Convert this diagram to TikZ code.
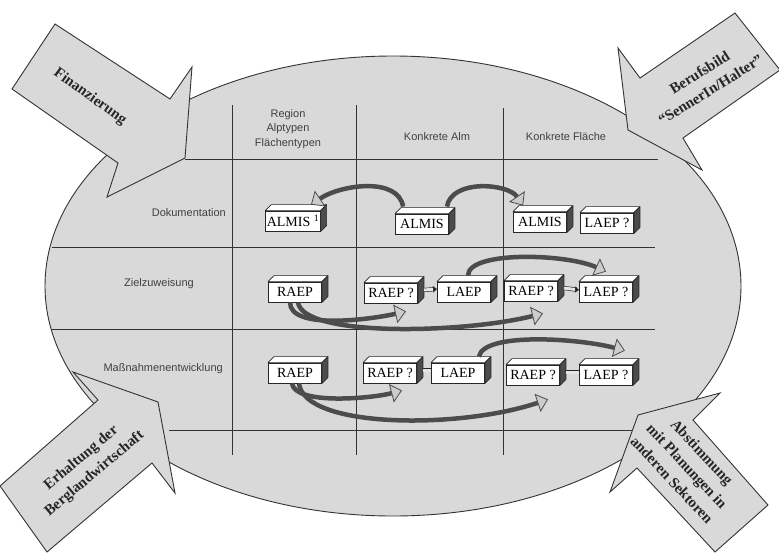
\documentclass[tikz,border=0pt]{standalone}
\usepackage{fontspec}
\setmainfont{Liberation Serif}
\setsansfont{Liberation Sans}
\usetikzlibrary{arrows.meta}

\begin{document}
\begin{tikzpicture}[
  x=1pt, y=-1pt,
  plane/.style={draw=black!80, line width=0.9pt, fill=black!15, line join=miter},
  grid/.style={draw=black!80, line width=0.8pt},
  hdr/.style={font=\sffamily\fontsize{11}{14.5}\selectfont, text=black!75, align=center, inner sep=0pt},
  pushtxt/.style={font=\rmfamily\bfseries\fontsize{15}{20.5}\selectfont, text=black!85, align=center, inner sep=0pt},
  blk/.style={rectangle, draw=black!85, line width=0.8pt, fill=white, minimum width=53pt,
              minimum height=20pt, inner sep=1pt, font=\rmfamily\fontsize{14}{16}\selectfont},
  blktop/.style={draw=black!85, line width=0.7pt, fill=white, line join=round},
  blkside/.style={draw=black!85, line width=0.7pt, fill=black!70, line join=round},
  link/.style={draw=black!85, line width=0.6pt, double=black!10, double distance=3pt},
  flow/.style={draw=black!70, line width=4.5pt,
               -{Triangle[length=11pt, width=19pt, fill=black!20, line width=0.8pt]}}
]
\useasboundingbox (0,0) rectangle (779,552);

% the oval
\path[plane] (393,286) ellipse [x radius=348pt, y radius=230pt];

% grid
\draw[grid] (185,159) -- (658,159);
\draw[grid] (52,247) -- (655,247);
\draw[grid] (52,329) -- (655,329);
\draw[grid] (169,430) -- (660,430);
\draw[grid] (232,105) -- (232,455);
\draw[grid] (356,105) -- (356,455);
\draw[grid] (503,108) -- (503,455);

% column and row heads
\node[hdr] (hreg) at (288,129) {Region\\Alptypen\\Flächentypen};
\node[hdr] (halm) at (437,137) {Konkrete Alm};
\node[hdr] (hfl)  at (566,137) {Konkrete Fläche};
\node[hdr, anchor=east] (rdoc)  at (226,213) {Dokumentation};
\node[hdr]              (rziel) at (159,284) {Zielzuweisung};
\node[hdr, anchor=east] (rmass) at (223,369) {Maßnahmenentwicklung};

% blocks
\node[blk] (doc1) at (293,221) {ALMIS \textsuperscript{1}};
\node[blk] (doc2) at (422,224) {ALMIS};
\node[blk] (doc3) at (540,222) {ALMIS};
\node[blk] (doc4) at (607,223) {LAEP ?};

\node[blk] (zw1) at (295,292) {RAEP};
\node[blk] (zw2) at (391,293) {RAEP ?};
\node[blk] (zw3) at (464,292) {LAEP};
\node[blk] (zw4) at (531,291) {RAEP ?};
\node[blk] (zw5) at (606,292) {LAEP ?};

\node[blk] (mn1) at (295,373) {RAEP};
\node[blk] (mn2) at (390,373) {RAEP ?};
\node[blk] (mn3) at (458,373) {LAEP};
\node[blk] (mn4) at (533,375) {RAEP ?};
\node[blk] (mn5) at (606,375) {LAEP ?};

\foreach \b in {doc1,doc2,doc3,doc4,zw1,zw2,zw3,zw4,zw5,mn1,mn2,mn3,mn4,mn5}{
  \path[blktop] (\b.north west) -- ++(6,-6) -- ([shift={(6,-6)}]\b.north east) -- (\b.north east) -- cycle;
  \path[blkside] (\b.north east) -- ++(6,-6) -- ([shift={(6,-6)}]\b.south east) -- (\b.south east) -- cycle;
}

% links
\draw[link, -{Latex[length=4pt, width=7pt]}] ([shift={(6,-3)}]zw2.east) -- ([shift={(0,-3)}]zw3.west);
\draw[link, -{Latex[length=4pt, width=7pt]}] ([shift={(6,-3)}]zw4.east) -- ([shift={(0,-2)}]zw5.west);
\draw[link] ([shift={(6,-3)}]mn2.east) -- ([shift={(0,-3)}]mn3.west);
\draw[link] ([shift={(6,-3)}]mn4.east) -- ([shift={(0,-3)}]mn5.west);

% flows
\draw[flow] ([shift={(8,-7)}]doc2.north west) .. controls +(-5,-30) and +(30,-20) .. ([shift={(18,-6)}]doc1.north);
\draw[flow] ([shift={(-2,-7)}]doc2.north east) .. controls +(5,-28) and +(-15,-22) .. ([shift={(10,-6)}]doc3.north west);
\draw[flow] ([shift={(4,-6)}]zw3.north) .. controls +(0,-25) and +(-40,-18) .. ([shift={(0,-10)}]zw5.north);
\draw[flow] ([xshift=-5pt]zw1.south) .. controls +(0,28) and +(-35,8) .. ([shift={(15,8)}]zw2.south);
\draw[flow] ([xshift=3pt]zw1.south) .. controls +(5,35) and +(-80,20) .. ([shift={(12,12)}]zw4.south);
\draw[flow] ([shift={(-6,-6)}]mn3.north east) .. controls +(5,-25) and +(-45,-12) .. ([shift={(-8,-14)}]mn5.north east);
\draw[flow] ([xshift=-3pt]mn1.south) .. controls +(3,22) and +(-30,8) .. ([shift={(12,7)}]mn2.south);
\draw[flow] ([xshift=4pt]mn1.south) .. controls +(5,45) and +(-90,30) .. ([shift={(15,14)}]mn4.south);

% pushing arrows
\path[plane] (55,24) -- (170,99) -- (192,67) -- (185,158) -- (107,197) -- (118,163) -- (12,89) -- cycle;
\path[plane] (735,13) -- (640,78) -- (618,48) -- (628,130) -- (702,170) -- (683,138) -- (780,70) -- cycle;
\path[plane] (0,486) -- (98,400) -- (73,372) -- (158,402) -- (175,493) -- (152,463) -- (47,552) -- cycle;
\path[plane] (720,393) -- (693,420) -- (768,505) -- (715,552) -- (637,468) -- (610,492) -- (638,415) -- cycle;

\node[pushtxt, rotate=-36] (fin) at (90,97) {Finanzierung};
\node[pushtxt, rotate=32]  (ber) at (705,81) {Berufsbild\\“SennerIn/Halter”};
\node[pushtxt, rotate=40]  (erh) at (88,466) {Erhaltung der\\Berglandwirtschaft};
\node[pushtxt, rotate=-47] (abs) at (687,466) {Abstimmung\\mit Planungen in\\anderen Sektoren};
\end{tikzpicture}
\end{document}
